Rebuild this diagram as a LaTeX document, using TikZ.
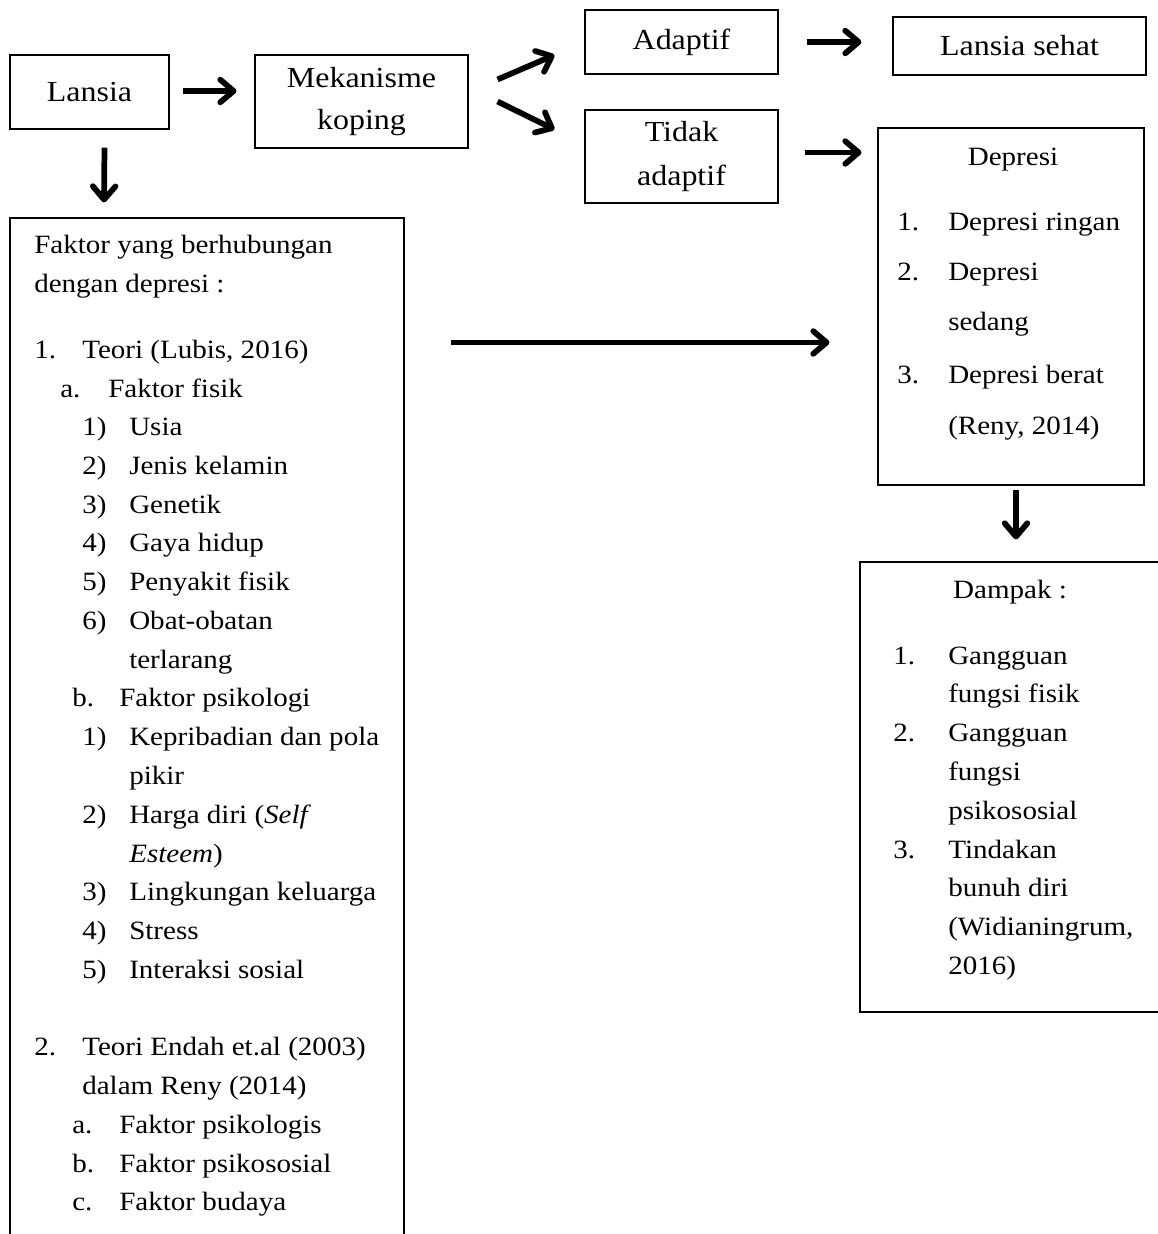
\documentclass[tikz,border=0pt]{standalone}
\usepackage{fontspec}
\setmainfont{Liberation Serif}[FakeStretch=1.1]
\usetikzlibrary{arrows.meta,calc,positioning}

\begin{document}
\begin{tikzpicture}[x=0.75pt, y=-0.75pt,
	every node/.style={font=\fontsize{19.8}{31.5}\selectfont},
	box/.style={draw, line width=0.8pt, inner sep=0pt, align=center, font=\fontsize{21.8}{31.5}\selectfont},
	txt/.style={anchor=base west, inner sep=0pt},
	arr/.style={line width=4.3pt, -{Straight Barb[length=10pt,width=17pt,line cap=round,line join=round]}}]
	\useasboundingbox (0,0) rectangle (1157,1234);
	% boxes
	\node[box, minimum width=159*0.75pt, minimum height=74*0.75pt] (lansia) at (89.5,92) {Lansia};
	\node[box, minimum width=213*0.75pt, minimum height=93*0.75pt] (mekanisme) at (361.5,101.5) {Mekanisme\\koping};
	\node[box, minimum width=193*0.75pt, minimum height=64*0.75pt] (adaptif) at (681.5,42) {Adaptif};
	\node[box, minimum width=193*0.75pt, minimum height=93*0.75pt] (tidak) at (681.5,156.5) {Tidak\\[1.5pt]adaptif};
	\node[box, minimum width=253*0.75pt, minimum height=58*0.75pt] (sehat) at (1019.5,46) {Lansia sehat};
	\node[box, minimum width=266*0.75pt, minimum height=357*0.75pt] (depresi) at (1011,306.5) {};
	\node[box, minimum width=394*0.75pt, minimum height=1032*0.75pt] (faktor) at (207,734) {};
	\node[box, minimum width=310*0.75pt, minimum height=450*0.75pt] (dampak) at (1015,787) {};
	% titles
	\node[anchor=base, inner sep=0pt] (depresiT) at (1013,166) {Depresi};
	\node[anchor=base, inner sep=0pt] (dampakT) at (1010,598) {Dampak :};
	% list rows: baseline / x of number / number / x of text / text
	\foreach \yy/\xa/\num/\xb/\lbl [count=\i] in {
		253/34/{}/34/{Faktor yang berhubungan},
		292/34/{}/34/{dengan depresi :},
		358/34/1./82/{Teori (Lubis, 2016)},
		397/60/a./108/{Faktor fisik},
		435/82/1)/129/Usia,
		474/82/2)/129/{Jenis kelamin},
		513/82/3)/129/Genetik,
		551/82/4)/129/{Gaya hidup},
		590/82/5)/129/{Penyakit fisik},
		629/82/6)/129/Obat-obatan,
		668/82/{}/129/terlarang,
		706/72/b./119/{Faktor psikologi},
		745/82/1)/129/{Kepribadian dan pola},
		784/82/{}/129/pikir,
		823/82/2)/129/{Harga diri (\textit{Self}},
		862/82/{}/129/{\textit{Esteem})},
		900/82/3)/129/{Lingkungan keluarga},
		939/82/4)/129/Stress,
		978/82/5)/129/{Interaksi sosial},
		1055/34/2./82/{Teori Endah et.al (2003)},
		1094/34/{}/82/{dalam Reny (2014)},
		1133/72/a./119/{Faktor psikologis},
		1172/72/b./119/{Faktor psikososial},
		1210/72/c./119/{Faktor budaya},
		230/897/1./948/{Depresi ringan},
		280/897/2./948/Depresi,
		330/897/{}/948/sedang,
		383/897/3./948/{Depresi berat},
		434/897/{}/948/{(Reny, 2014)},
		664/893/1./948/Gangguan,
		702/893/{}/948/{fungsi fisik},
		741/893/2./948/Gangguan,
		780/893/{}/948/fungsi,
		819/893/{}/948/psikososial,
		858/893/3./948/Tindakan,
		896/893/{}/948/{bunuh diri},
		935/893/{}/948/{(Widianingrum,},
		974/893/{}/948/2016)}{
		\node[txt] (n\i) at (\xa,\yy) {\num};
		\node[txt] (t\i) at (\xb,\yy) {\lbl};
	}
	% arrows
	\draw[arr] ($(lansia.east)+(13,-1)$) -- ($(lansia.east -| mekanisme.west)+(-18,-1)$);
	\draw[arr] ($(lansia.south)+(15,18)$) -- ($(faktor.north)+(-103,-15)$);
	\draw[arr] ($(mekanisme.east)+(29,-22)$) -- ($(adaptif.west)+(-30,13)$);
	\draw[arr] ($(mekanisme.east)+(29,0)$) -- ($(tidak.west)+(-30,-27)$);
	\draw[arr] ($(adaptif.east)+(28,0)$) -- ($(adaptif.east -| sehat.west)+(-31,0)$);
	\draw[arr] ($(tidak.east)+(26,-4)$) -- ($(tidak.east -| depresi.west)+(-16,-4)$);
	\draw[arr] ($(faktor.north east)+(46,125)$) -- ($(depresi.north west)+(-48,215)$);
	\draw[arr] ($(depresi.south)+(5,4)$) -- ($(dampak.north)+(1,-22)$);
\end{tikzpicture}
\end{document}
